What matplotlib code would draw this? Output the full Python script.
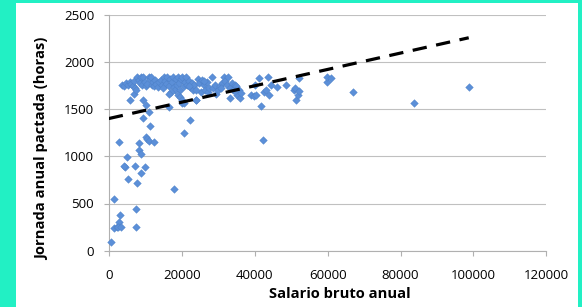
import matplotlib
matplotlib.use("Agg")
import numpy as np
from matplotlib import pyplot as plt
from matplotlib import patches as pt

# salario bruto anual (euros) and jornada anual pactada (horas)
salario_bajo = [500, 1500, 1400, 2200, 2700, 2950, 2550, 3450, 2850, 4450, 4250, 4900,
                5300, 7100, 7600, 7400, 7400, 8350, 8150, 8950, 8750, 9900, 9350, 10100,
                10600, 11000, 11300, 11100, 12300, 17800, 20650, 22400, 9450, 10100, 5800,
                16400, 20150, 23800]
horas_bajo = [92, 547, 237, 254, 307, 378, 254, 254, 1148, 890, 900, 996,
              763, 900, 720, 438, 251, 1144, 1070, 1024, 819, 890, 1402, 1200,
              1183, 1472, 1320, 1165, 1155, 657, 1246, 1380, 1596, 1543, 1596,
              1525, 1568, 1596]

salario_banda = [3600, 4200, 4800, 5300, 5800, 6200, 6600, 7000, 7200, 6800, 7500,
                 7800, 8200, 8500, 8800, 9100, 9500, 9800, 10200, 10600, 10900, 11200,
                 11500, 11800, 12100, 12500, 12800, 13000, 13400, 13800, 14200, 14600,
                 15000, 15300, 15700, 16000, 16400, 16800, 17200, 17500, 17800, 18100,
                 18400, 18700, 19000, 19300, 19600, 19900, 20200, 20500, 20800, 17000,
                 16500, 18900, 19500, 20000, 20600, 21200, 21500, 21900, 22300, 22700,
                 23000, 23500, 23900, 24400, 24800, 25200, 25600, 26000, 26400, 26800,
                 27200, 27600, 28200, 28600, 29000, 29500, 30000, 30500, 31000, 31600,
                 32000, 32400, 32800, 33200, 33300, 33700, 34100, 34500, 34900, 35200,
                 35600, 35900, 36200, 14800, 22000, 24000, 26200, 30800, 34700]
horas_banda = [1760, 1750, 1775, 1760, 1790, 1770, 1740, 1800, 1720, 1660, 1700,
               1843, 1810, 1780, 1843, 1760, 1843, 1790, 1750, 1770, 1843, 1815,
               1843, 1760, 1790, 1740, 1810, 1770, 1730, 1790, 1810, 1760,
               1843, 1800, 1770, 1843, 1750, 1815, 1790, 1843, 1730, 1700,
               1815, 1760, 1843, 1780, 1700, 1820, 1843, 1750, 1790, 1680,
               1660, 1650, 1630, 1600, 1560, 1843, 1760, 1800, 1730, 1780,
               1700, 1760, 1600, 1820, 1780, 1680, 1810, 1760, 1700, 1790,
               1680, 1720, 1843, 1720, 1755, 1660, 1700, 1740, 1780, 1843,
               1800, 1760, 1843, 1720, 1613, 1780, 1700, 1760, 1740, 1650,
               1700, 1620, 1670, 1720, 1740, 1700, 1800, 1720, 1690]

salario_alto = [39000, 39800, 40400, 40000, 41100, 41800, 42400, 42600, 43200, 43700,
                43900, 44500, 46000, 48600, 50900, 51200, 51000, 51800, 52200, 52200,
                59900, 59900, 60900, 67100, 83800, 98700]
horas_alto = [1650, 1640, 1650, 1760, 1829, 1536, 1172, 1680, 1700, 1843,
              1650, 1760, 1730, 1751, 1700, 1596, 1720, 1650, 1690, 1825,
              1783, 1843, 1825, 1684, 1564, 1730]

# linear trend line shown in the chart
tendencia_origen = 1400
tendencia_pendiente = 0.00867

x_ticks = [0, 20000, 40000, 60000, 80000, 100000, 120000]
y_ticks = [0, 500, 1000, 1500, 2000, 2500]

salario = np.array(salario_bajo + salario_banda + salario_alto)
horas = np.array(horas_bajo + horas_banda + horas_alto)

plt.rcParams['font.family'] = ['Open Sans', 'DejaVu Sans']

fig = plt.figure(figsize=(5.82, 3.07), dpi=100, facecolor='#22F0C4')
fig.patches.append(pt.Rectangle((16 / 582, 0), 562 / 582, 304 / 307, transform=fig.transFigure,
                                facecolor='white', edgecolor='none', zorder=-5))
ax = fig.add_axes([108.8 / 582, 56.3 / 307, 437.6 / 582, 236 / 307])
ax.patch.set_alpha(0)

ax.scatter(salario, horas, marker='D', s=15, color='#5B8FD8', edgecolors='#4C80C8',
           linewidths=0.3, zorder=3, clip_on=False)
xt = np.array([0, salario.max()])
ax.plot(xt, tendencia_origen + tendencia_pendiente * xt, color='black', lw=2.3,
        linestyle=(0, (4.5, 3)), dash_capstyle='butt', zorder=4)

ax.set_xlim(0, 120000)
ax.set_ylim(0, 2500)
ax.set_xticks(x_ticks)
ax.set_yticks(y_ticks)
ax.grid(axis='y', color='#C0C0C0', lw=0.8)
ax.set_axisbelow(True)
for s in ['top', 'right']:
    ax.spines[s].set_visible(False)
for s in ['left', 'bottom']:
    ax.spines[s].set_color('#B0B0B0')
    ax.spines[s].set_linewidth(0.8)
ax.tick_params(axis='both', colors='#B0B0B0', labelcolor='black', labelsize=9.5, length=3.5, width=0.8)
ax.tick_params(axis='y', pad=7)
ax.tick_params(axis='x', pad=10)
ax.set_xlabel('Salario bruto anual', fontsize=10.6, fontweight='bold')
ax.set_ylabel('Jornada anual pactada (horas)', fontsize=10.6, fontweight='bold')
ax.xaxis.set_label_coords(0.528, -0.155)
ax.yaxis.set_label_coords(-0.137, 0.431)

fig.savefig('out.png', dpi=100, facecolor=fig.get_facecolor())
